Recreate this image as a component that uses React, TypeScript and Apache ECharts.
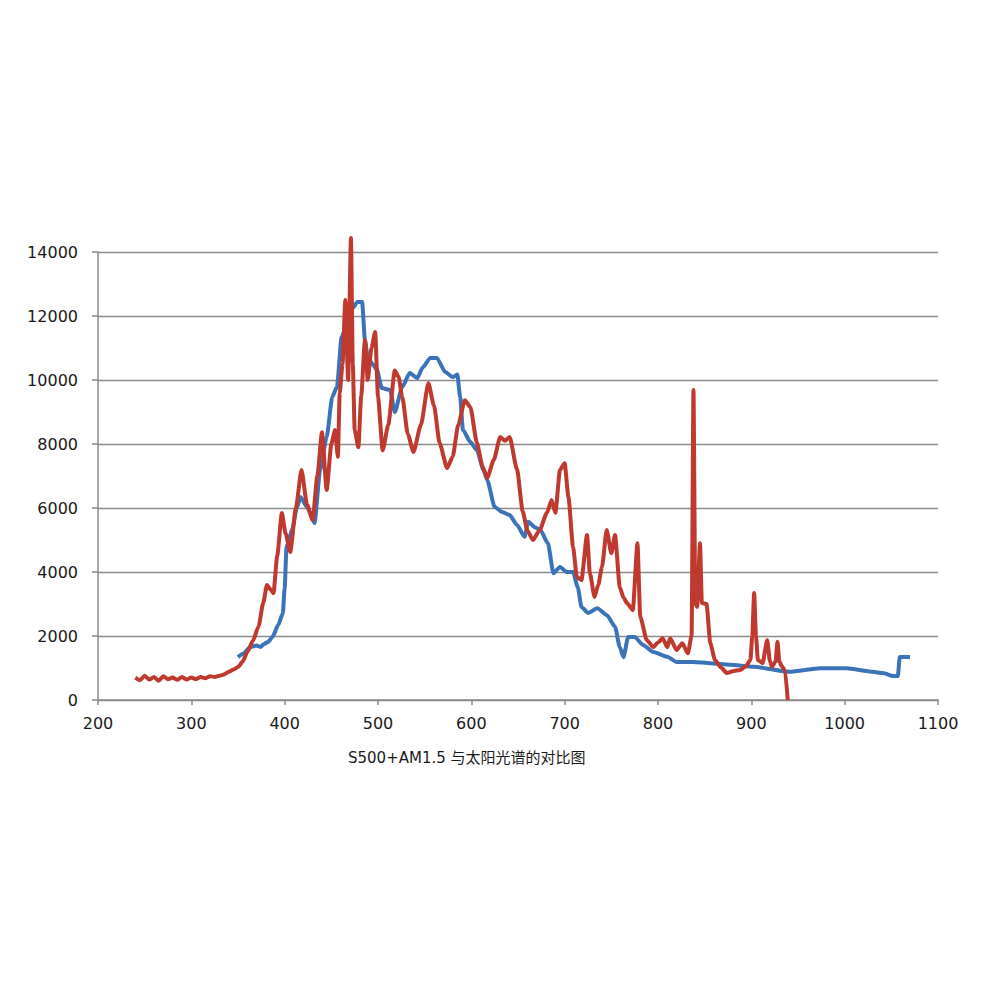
import React, { useEffect, useRef } from 'react'
import * as echarts from 'echarts'

// 太阳光谱 (蓝) — [波长 nm, 强度]
const solarWave = [
  350, 356, 363, 370, 374, 378, 382, 387, 393, 398, 400, 402, 408, 413, 417, 424, 432, 438, 445, 451,
  456, 461, 467, 473, 478, 483, 486, 489, 494, 499, 504, 513, 518, 526, 534, 542, 548, 556, 563, 572,
  580, 585, 588, 591, 599, 606, 613, 617, 625, 633, 641, 649, 657, 661, 668, 674, 682, 688, 695, 702,
  709, 714, 718, 725, 735, 745, 754, 759, 763, 768, 775, 784, 795, 810, 820, 838, 856, 877, 902, 941,
  974, 1002, 1030, 1041, 1052, 1057, 1059, 1070,
]
const solarValue = [
  1340, 1450, 1660, 1700, 1660, 1750, 1810, 1970, 2340, 2700, 3500, 4780, 5310, 6000, 6340, 6030, 5530, 7190, 8220, 9470,
  9780, 11340, 11780, 12250, 12440, 12440, 11250, 10720, 10500, 10310, 9750, 9690, 9000, 9780, 10220, 10060, 10400, 10690, 10690, 10250,
  10090, 10170, 9470, 8440, 8060, 7810, 7190, 6870, 6030, 5875, 5780, 5470, 5100, 5570, 5400, 5310, 4900, 3960, 4160, 4000,
  4000, 3530, 2910, 2720, 2870, 2660, 2290, 1660, 1340, 1970, 1970, 1720, 1500, 1350, 1190, 1190, 1150, 1100, 1040, 880,
  990, 990, 880, 840, 750, 750, 1340, 1340,
]

// S500+AM1.5 (红)
const lampWave = [
  240, 245, 250, 255, 260, 265, 270, 275, 280, 285, 290, 295, 300, 305, 310, 315, 320, 325, 330, 335,
  340, 345, 350, 355, 360, 366, 372, 377, 381, 385, 388, 392, 397, 401, 406, 412, 418, 424, 430, 435,
  440, 445, 450, 454, 457, 459, 462, 465, 468, 471, 473, 475, 479, 482, 486, 489, 493, 497, 500, 505,
  511, 518, 522, 526, 532, 538, 546, 554, 560, 566, 574, 580, 586, 593, 599, 606, 612, 617, 624, 631,
  636, 641, 649, 655, 660, 666, 673, 681, 686, 690, 695, 700, 704, 709, 713, 718, 724, 727, 732, 736,
  740, 745, 750, 754, 759, 763, 767, 773, 778, 781, 788, 795, 800, 805, 810, 813, 820, 826, 832, 836,
  838, 840, 842, 845, 847, 852, 856, 861, 868, 874, 880, 888, 894, 899, 901, 903, 905, 907, 912, 917,
  920, 922, 926, 928, 930, 933, 936, 939,
]
const lampValue = [
  700, 620, 760, 640, 720, 600, 740, 650, 700, 630, 720, 640, 700, 650, 720, 680, 740, 720, 760, 800,
  880, 950, 1030, 1200, 1500, 1850, 2300, 3030, 3590, 3450, 3340, 4500, 5840, 5200, 4625, 6000, 7190, 6100, 5625, 7000,
  8370, 6560, 8000, 8440, 7600, 9590, 10500, 12500, 10000, 14440, 10500, 8440, 7900, 9500, 11250, 10000, 11000, 11500, 9470, 7800,
  8600, 10300, 10100, 9470, 8300, 7750, 8600, 9900, 9200, 8030, 7250, 7600, 8600, 9370, 9150, 8030, 7300, 6940, 7500, 8220,
  8100, 8220, 7200, 5900, 5300, 5000, 5300, 5850, 6250, 5850, 7190, 7400, 6350, 4780, 3850, 3750, 5160, 3960, 3220, 3600,
  4160, 5310, 4590, 5160, 3530, 3200, 3020, 2810, 4900, 2600, 1870, 1650, 1800, 1930, 1650, 1930, 1560, 1770, 1460, 2000,
  9690, 3000, 2910, 4900, 3030, 3000, 1780, 1250, 1000, 840, 900, 940, 1050, 1250, 2000, 3340, 2000, 1250, 1150, 1870,
  1200, 1040, 1200, 1820, 1200, 1040, 940, 0,
]

const xTicks = { min: 200, max: 1100, step: 100 }
const yTicks = { min: 0, max: 14000, step: 2000 }
const chartTitle = 'S500+AM1.5 与太阳光谱的对比图'

const pair = (xs: number[], ys: number[]) => xs.map((x, i) => [x, ys[i]])

const App = () => {
  const chartRef = useRef<HTMLDivElement>(null)

  useEffect(() => {
    if (!chartRef.current) return
    const chart = echarts.init(chartRef.current, undefined, { renderer: 'svg' })

    const labelStyle = {
      color: '#1a1a1a',
      fontFamily: 'DejaVu Sans',
      fontSize: 16,
      formatter: (v: number) => String(v),
    }

    chart.setOption({
      animation: false,
      backgroundColor: '#fff',
      title: {
        text: chartTitle,
        left: 343,
        top: 745,
        textStyle: { color: '#1a1a1a', fontSize: 15, fontWeight: 400, fontFamily: 'DejaVu Sans, Noto Sans CJK SC' },
      },
      grid: { left: 98, right: 62, top: 252, bottom: 300 },
      xAxis: {
        type: 'value',
        min: xTicks.min,
        max: xTicks.max,
        interval: xTicks.step,
        axisLine: { lineStyle: { color: '#8a8a8a', width: 1.5 } },
        axisTick: { show: true, length: 5, lineStyle: { color: '#8a8a8a', width: 1.5 } },
        axisLabel: { ...labelStyle, margin: 15 },
        splitLine: { show: false },
      },
      yAxis: {
        type: 'value',
        min: yTicks.min,
        max: yTicks.max,
        interval: yTicks.step,
        axisLine: { show: true, lineStyle: { color: '#8a8a8a', width: 1.5 } },
        axisTick: { show: true, length: 6, lineStyle: { color: '#8a8a8a', width: 1.5 } },
        axisLabel: { ...labelStyle, margin: 20 },
        splitLine: { lineStyle: { color: '#8a8a8a', width: 1.3 } },
      },
      series: [
        {
          name: '太阳光谱',
          type: 'line',
          data: pair(solarWave, solarValue),
          showSymbol: false,
          clip: false,
          smooth: 0.2,
          smoothMonotone: 'x',
          lineStyle: { color: '#3b73b9', width: 4, join: 'round' },
        },
        {
          name: 'S500+AM1.5',
          type: 'line',
          data: pair(lampWave, lampValue),
          showSymbol: false,
          clip: false,
          smooth: 0.2,
          smoothMonotone: 'x',
          lineStyle: { color: '#c0392f', width: 4, join: 'round' },
        },
      ],
    })

    return () => {
      chart.dispose()
    }
  }, [])

  return (
    <div
      ref={chartRef}
      style={{ position: 'absolute', left: 0, top: 0, width: 1000, height: 1000 }}
    />
  )
}

export default App
